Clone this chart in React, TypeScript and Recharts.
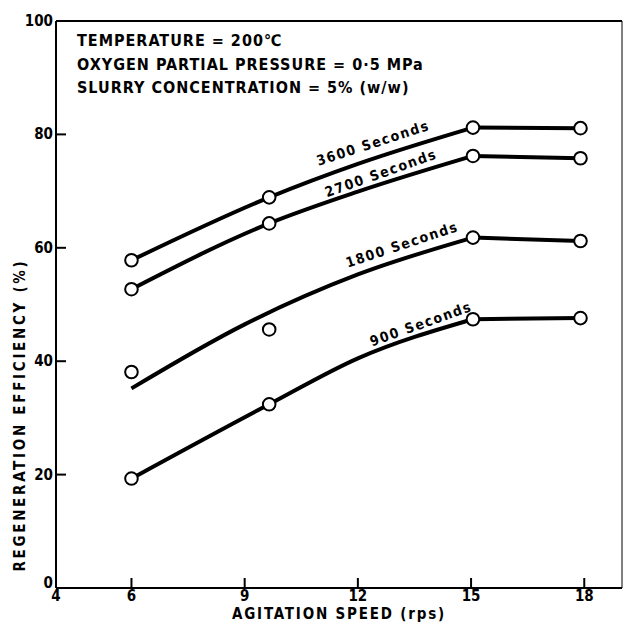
import React from 'react';
import { ComposedChart, Line, XAxis, YAxis, Scatter, ReferenceLine, ReferenceDot } from 'recharts';

// Agitation speed (rps) at the measured points
const speeds = [6, 9.65, 15.05, 17.9];
// Regeneration efficiency (%) measured
const eff3600 = [57.8, 68.9, 81.2, 81.1];
const eff2700 = [52.7, 64.3, 76.2, 75.8];
const eff1800 = [38.1, 45.6, 61.8, 61.2];
const eff900 = [19.3, 32.4, 47.4, 47.6];

// Hand-drawn trend curves
const trendSpeeds = [6, 9.65, 12, 15.05, 17.9];
const trend3600 = [57.8, 68.9, 74.8, 81.2, 81.1];
const trend2700 = [52.7, 64.3, 69.9, 76.2, 75.8];
const trend900 = [19.3, 32.4, 40.5, 47.4, 47.6];
// 1800 s trend does not pass through the first two points
const fit1800Speeds = [6, 9, 12, 15.05, 17.9];
const fit1800Values = [35.2, 46.5, 55.3, 61.8, 61.2];

const xTicks = [4, 6, 9, 12, 15, 18];
const yTicks = [0, 20, 40, 60, 80, 100];

const curveLabels = ['3600 Seconds', '2700 Seconds', '1800 Seconds', '900 Seconds'];
const labelSpeeds = [12.4, 12.61, 13.17, 13.67];
const labelEffs = [78.5, 73.2, 60.6, 46.6];
const labelAngles = [-18, -19.5, -18.4, -19.6];

const notes = [
  'TEMPERATURE = 200℃',
  'OXYGEN PARTIAL PRESSURE = 0·5 MPa',
  'SLURRY CONCENTRATION = 5% (w/w)',
];

const toPts = (xs: number[], ys: number[]) => xs.map((x, i) => ({ x, y: ys[i] }));

const FONT = '"DejaVu Sans Condensed", "DejaVu Sans", sans-serif';

const Marker = (props: any) => {
  const { cx, cy } = props;
  if (cx == null || cy == null) return null;
  return <circle cx={cx} cy={cy} r={6.3} fill="#fff" stroke="#000" strokeWidth={2} />;
};

const makeLabelShape = (text: string, angle: number) => (props: any) => {
  const { cx, cy } = props;
  return (
    <text
      x={cx}
      y={cy}
      transform={`rotate(${angle}, ${cx}, ${cy})`}
      textAnchor="middle"
      dominantBaseline="central"
      fontFamily={FONT}
      fontStretch="condensed"
      fontWeight="bold"
      fontSize={14}
      letterSpacing={1.6}
      fill="#000"
    >
      {text}
    </text>
  );
};

const YLabel = (props: any) => {
  const vb = props.viewBox || {};
  const x = (vb.x ?? 16) + 4;
  const y = (vb.y ?? 21) + (vb.height ?? 567) * 0.695;
  return (
    <text
      x={x}
      y={y}
      transform={`rotate(-90, ${x}, ${y})`}
      textAnchor="middle"
      dominantBaseline="central"
      fontFamily={FONT}
      fontStretch="condensed"
      fontWeight="bold"
      fontSize={15}
      letterSpacing={2.7}
      fill="#000"
    >
      REGENERATION EFFICIENCY (%)
    </text>
  );
};

const tickStyle = {
  fontFamily: FONT,
  fontStretch: 'condensed',
  fontWeight: 'bold' as const,
  fontSize: 15,
  fill: '#000',
};

const YTick = (props: any) => {
  const { x, y, payload } = props;
  const dy = payload.value === 0 ? -5 : 0;
  return (
    <text x={x} y={y + dy} textAnchor="end" dominantBaseline="central" style={tickStyle as any}>
      {payload.value}
    </text>
  );
};

export default function App() {
  const curves = [
    { key: '3600', xs: trendSpeeds, ys: trend3600 },
    { key: '2700', xs: trendSpeeds, ys: trend2700 },
    { key: '1800', xs: fit1800Speeds, ys: fit1800Values },
    { key: '900', xs: trendSpeeds, ys: trend900 },
  ];
  const markers = [eff3600, eff2700, eff1800, eff900].map((e) => toPts(speeds, e));
  return (
    <div style={{ position: 'absolute', left: 0, top: 0, width: 624, height: 629, background: '#fff' }}>
      <ComposedChart width={624} height={629} margin={{ top: 21, right: 2, left: 16, bottom: 0 }}>
        <XAxis
          type="number"
          dataKey="x"
          domain={[4, 19]}
          ticks={xTicks}
          allowDataOverflow
          height={41}
          tickSize={-10}
          tickMargin={12}
          axisLine={{ stroke: '#000', strokeWidth: 2 }}
          tickLine={{ stroke: '#000', strokeWidth: 2 }}
          tick={tickStyle}
          label={{
            value: 'AGITATION SPEED (rps)',
            position: 'insideBottom',
            offset: 10,
            style: {
              fontFamily: FONT,
              fontStretch: 'condensed',
              fontWeight: 'bold',
              fontSize: 15,
              letterSpacing: 1.8,
              fill: '#000',
            },
          }}
        />
        <YAxis
          type="number"
          dataKey="y"
          domain={[0, 100]}
          ticks={yTicks}
          allowDataOverflow
          width={40}
          tickSize={-10}
          tickMargin={13}
          axisLine={{ stroke: '#000', strokeWidth: 2 }}
          tickLine={{ stroke: '#000', strokeWidth: 2 }}
          tick={<YTick />}
          label={<YLabel />}
        />
        <ReferenceLine y={100} stroke="#000" strokeWidth={2} />
        <ReferenceLine x={19} stroke="#000" strokeWidth={1} />
        {curves.map((c) => {
          const pts = toPts(c.xs, c.ys);
          const n = pts.length;
          return [
            <Line
              key={c.key + 'a'}
              data={pts.slice(0, n - 1)}
              dataKey="y"
              type="monotone"
              stroke="#000"
              strokeWidth={4}
              dot={false}
              activeDot={false}
              isAnimationActive={false}
            />,
            <Line
              key={c.key + 'b'}
              data={pts.slice(n - 2)}
              dataKey="y"
              type="linear"
              stroke="#000"
              strokeWidth={4}
              dot={false}
              activeDot={false}
              isAnimationActive={false}
            />,
          ];
        })}
        {markers.map((m, i) => (
          <Scatter key={'m' + i} data={m} dataKey="y" shape={<Marker />} isAnimationActive={false} />
        ))}
        {curveLabels.map((t, i) => (
          <ReferenceDot
            key={'lab' + i}
            x={labelSpeeds[i]}
            y={labelEffs[i]}
            r={0}
            shape={makeLabelShape(t, labelAngles[i])}
          />
        ))}
      </ComposedChart>
      <div
        style={{
          position: 'absolute',
          left: 77,
          top: 29,
          fontFamily: FONT,
          fontStretch: 'condensed',
          fontWeight: 'bold',
          fontSize: 16,
          letterSpacing: 1,
          lineHeight: '23.5px',
          color: '#000',
          whiteSpace: 'nowrap',
        }}
      >
        {notes.map((n) => (
          <div key={n}>{n}</div>
        ))}
      </div>
    </div>
  );
}
